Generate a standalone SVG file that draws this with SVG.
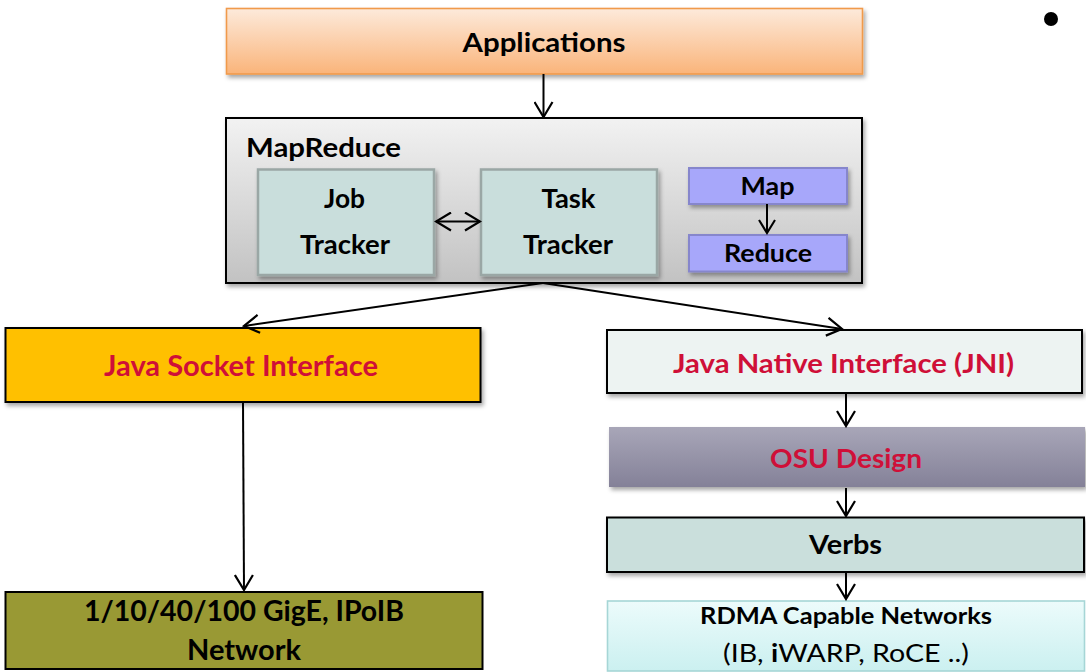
<svg xmlns="http://www.w3.org/2000/svg" width="1086" height="672" viewBox="0 0 1086 672">
<style>
text{font-family:Lato,"Liberation Sans",sans-serif;font-weight:bold;fill:#000;}
.red{fill:#cf0f38;}
.blk{stroke:#000;stroke-width:2;}
.conn line{stroke:#000;stroke-width:2;fill:none;}
</style>
<defs>
<linearGradient id="gApp" x1="0" y1="0" x2="0" y2="1"><stop offset="0" stop-color="#fdeadb"/><stop offset="1" stop-color="#fab47a"/></linearGradient>
<linearGradient id="gMR" x1="0" y1="0" x2="0" y2="1"><stop offset="0" stop-color="#f2f2f2"/><stop offset="1" stop-color="#c2c2c2"/></linearGradient>
<linearGradient id="gOSU" x1="0" y1="0" x2="0" y2="1"><stop offset="0" stop-color="#a8a6b8"/><stop offset="1" stop-color="#848198"/></linearGradient>
<linearGradient id="gRD" x1="0" y1="0" x2="0" y2="1"><stop offset="0" stop-color="#ecfbfb"/><stop offset="1" stop-color="#cbf0f0"/></linearGradient>
<filter id="sh" x="-5%" y="-10%" width="110%" height="130%"><feDropShadow dx="2" dy="3" stdDeviation="2" flood-color="#000" flood-opacity="0.35"/></filter>
<marker id="ar" viewBox="0 0 18 20" refX="16" refY="10" markerWidth="18" markerHeight="20" markerUnits="userSpaceOnUse" orient="auto-start-reverse"><path d="M1,1 L16,10 L1,19" fill="none" stroke="#000" stroke-width="2.2"/></marker>
<marker id="ars" viewBox="0 0 16 18" refX="14" refY="9" markerWidth="16" markerHeight="18" markerUnits="userSpaceOnUse" orient="auto"><path d="M1,1 L14,9 L1,17" fill="none" stroke="#000" stroke-width="2.1"/></marker>
</defs>
<rect width="1086" height="672" fill="#fff"/>

<g id="applications">
<rect x="226.5" y="8.5" width="636" height="65.5" fill="url(#gApp)" stroke="#f09a4c" stroke-width="1.6" filter="url(#sh)"/>
<text x="544" y="52" font-size="27.5" text-anchor="middle" textLength="163" lengthAdjust="spacingAndGlyphs">Applications</text>
</g>

<g id="mapreduce">
<rect x="226" y="118" width="636" height="165" fill="url(#gMR)" class="blk" filter="url(#sh)"/>
<text x="246" y="157" font-size="26.5" textLength="155" lengthAdjust="spacingAndGlyphs">MapReduce</text>
</g>

<g id="jobtracker">
<rect x="258" y="169.5" width="176" height="105.5" fill="#c9dedc" stroke="#9aa7a5" stroke-width="2.5" filter="url(#sh)"/>
<text x="324" y="208" font-size="26.5" textLength="41" lengthAdjust="spacingAndGlyphs">Job</text>
<text x="300" y="254" font-size="26.5" textLength="90" lengthAdjust="spacingAndGlyphs">Tracker</text>
</g>

<g id="tasktracker">
<rect x="481" y="169.5" width="176" height="105.5" fill="#c9dedc" stroke="#9aa7a5" stroke-width="2.5" filter="url(#sh)"/>
<text x="541.5" y="208" font-size="26.5" textLength="54" lengthAdjust="spacingAndGlyphs">Task</text>
<text x="523" y="254" font-size="26.5" textLength="90" lengthAdjust="spacingAndGlyphs">Tracker</text>
</g>

<g id="map">
<rect x="689" y="168" width="158" height="36" fill="#a7a7fa" stroke="#8686cc" stroke-width="2" filter="url(#sh)"/>
<text x="740.5" y="195" font-size="25.5" textLength="54" lengthAdjust="spacingAndGlyphs">Map</text>
</g>

<g id="reduce">
<rect x="689" y="235" width="158" height="36.5" fill="#a7a7fa" stroke="#8686cc" stroke-width="2" filter="url(#sh)"/>
<text x="724" y="262" font-size="25.5" textLength="88" lengthAdjust="spacingAndGlyphs">Reduce</text>
</g>

<g id="javasocket">
<rect x="5.5" y="328" width="475" height="74" fill="#ffc000" class="blk" filter="url(#sh)"/>
<text class="red" x="104" y="376" font-size="28.5" textLength="274" lengthAdjust="spacingAndGlyphs">Java Socket Interface</text>
</g>

<g id="gige">
<rect x="5.5" y="592" width="477" height="77" fill="#999934" class="blk"/>
<text x="84" y="621" font-size="28.5" textLength="320" lengthAdjust="spacingAndGlyphs">1/10/40/100 GigE, IPoIB</text>
<text x="187" y="660" font-size="28.5" textLength="114" lengthAdjust="spacingAndGlyphs">Network</text>
</g>

<g id="jni">
<rect x="607" y="330" width="475" height="63" fill="#edf3f2" class="blk" filter="url(#sh)"/>
<text class="red" x="673" y="372.5" font-size="26.5" textLength="341" lengthAdjust="spacingAndGlyphs">Java Native Interface (JNI)</text>
</g>

<g id="osu">
<rect x="609" y="427" width="476" height="60" fill="url(#gOSU)" filter="url(#sh)"/>
<text class="red" x="770" y="468" font-size="27.5" textLength="152" lengthAdjust="spacingAndGlyphs">OSU Design</text>
</g>

<g id="verbs">
<rect x="607" y="517.5" width="477" height="54.5" fill="#cadfdc" class="blk" filter="url(#sh)"/>
<text x="809" y="554" font-size="27.5" textLength="73" lengthAdjust="spacingAndGlyphs">Verbs</text>
</g>

<g id="rdma">
<rect x="607.5" y="601" width="477" height="70" fill="url(#gRD)" stroke="#a6d6d6" stroke-width="1.6"/>
<text x="700" y="624" font-size="22.5" textLength="292" lengthAdjust="spacingAndGlyphs">RDMA Capable Networks</text>
<text x="723" y="662" font-size="25.5" style="font-weight:normal" textLength="246" lengthAdjust="spacingAndGlyphs">(IB, <tspan style="font-weight:bold">i</tspan>WARP, RoCE ..)</text>
</g>

<g id="bullet">
<circle cx="1051" cy="19" r="7" fill="#000"/>
</g>

<g id="connectors" class="conn">
<line x1="543.5" y1="74" x2="543.5" y2="117" marker-end="url(#ar)"/>
<line x1="436" y1="221.5" x2="480" y2="221.5" marker-start="url(#ar)" marker-end="url(#ar)"/>
<line x1="767" y1="204" x2="767" y2="233" marker-end="url(#ars)"/>
<line x1="543" y1="283" x2="244" y2="326" marker-end="url(#ar)"/>
<line x1="543" y1="283" x2="842" y2="329" marker-end="url(#ar)"/>
<line x1="243" y1="402" x2="244" y2="590" marker-end="url(#ar)"/>
<line x1="846" y1="393" x2="846" y2="426" marker-end="url(#ar)"/>
<line x1="846" y1="488" x2="846" y2="516" marker-end="url(#ar)"/>
<line x1="846" y1="572" x2="846" y2="599" marker-end="url(#ar)"/>
</g>
</svg>
